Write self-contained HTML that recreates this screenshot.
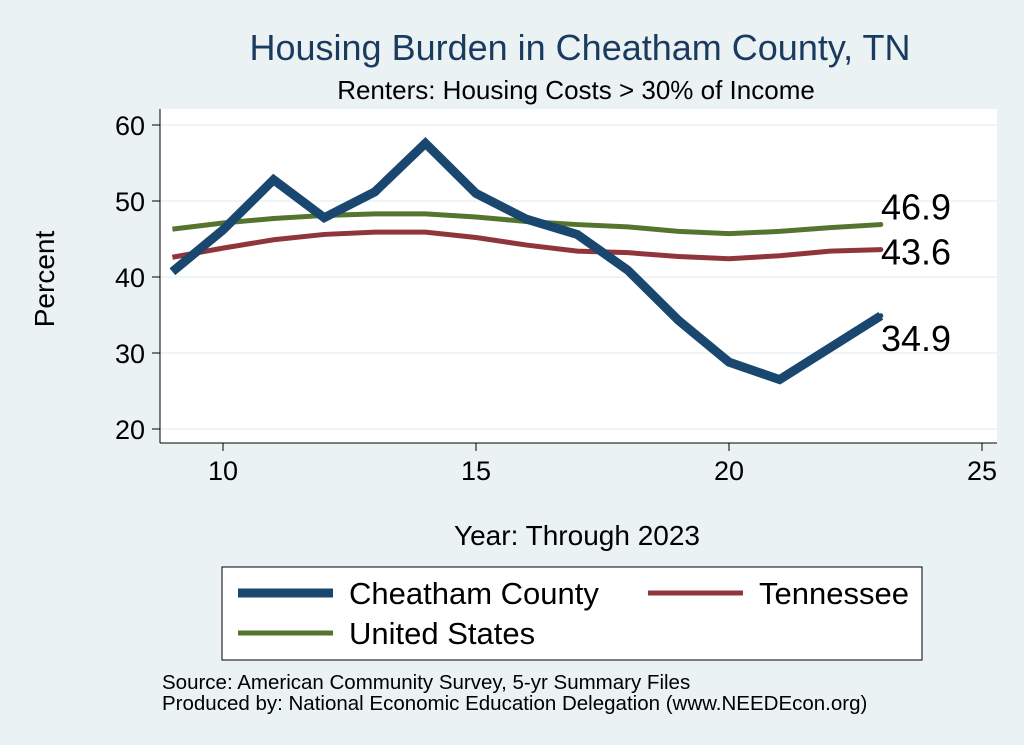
<!DOCTYPE html>
<html><head><meta charset="utf-8"><style>
body{margin:0;background:#eaf2f3;}
svg{display:block;font-family:"Liberation Sans",sans-serif;}
</style></head><body>
<svg width="1024" height="745" viewBox="0 0 1024 745">
<rect x="0" y="0" width="1024" height="745" fill="#eaf2f3"/>
<text x="580" y="60" text-anchor="middle" font-size="36" fill="#1a3a5e">Housing Burden in Cheatham County, TN</text>
<text x="576" y="99" text-anchor="middle" font-size="26" fill="#000">Renters: Housing Costs &gt; 30% of Income</text>
<rect x="160" y="109" width="837" height="334" fill="#fff"/>
<g id="grid"></g><g id="axes"></g><g id="series"></g>
<text x="44" y="279" text-anchor="middle" font-size="28" transform="rotate(-90 44 279)" dy="10">Percent</text>
<text x="577" y="545" text-anchor="middle" font-size="28">Year: Through 2023</text>
<g>
<rect x="222" y="567" width="700" height="93" fill="#fff" stroke="#000" stroke-width="1"/>
<line x1="238" y1="593" x2="333" y2="593" stroke="#1a476f" stroke-width="9"/>
<text x="349" y="604" font-size="31">Cheatham County</text>
<line x1="648" y1="593" x2="743" y2="593" stroke="#90353b" stroke-width="5"/>
<text x="759" y="604" font-size="31">Tennessee</text>
<line x1="238" y1="633" x2="333" y2="633" stroke="#55752f" stroke-width="5"/>
<text x="349" y="644" font-size="31">United States</text>
</g>
<text x="162" y="689" font-size="20.5">Source: American Community Survey, 5-yr Summary Files</text>
<text x="162" y="710" font-size="20.5">Produced by: National Economic Education Delegation (www.NEEDEcon.org)</text>
</svg>
<script>
const years=[9,10,11,12,13,14,15,16,17,18,19,20,21,22,23];
const cheatham=[40.7,46.2,52.8,47.8,51.2,57.6,51,47.6,45.6,40.9,34.3,28.8,26.5,30.7,34.9];
const tennessee=[42.6,43.8,44.9,45.6,45.9,45.9,45.2,44.2,43.4,43.2,42.7,42.4,42.8,43.4,43.6];
const unitedStates=[46.3,47.1,47.7,48.1,48.3,48.3,47.9,47.3,46.9,46.6,46.0,45.7,46.0,46.5,46.9];
const xTicks=[10,15,20,25];
const yTicks=[20,30,40,50,60];
const NS="http://www.w3.org/2000/svg";
const X=v=>223+(v-10)*50.6;
const Y=v=>429-(v-20)*7.6;
function mk(tag,attrs,parent){const e=document.createElementNS(NS,tag);for(const k in attrs)e.setAttribute(k,attrs[k]);parent.appendChild(e);return e;}
const grid=document.getElementById('grid'),axes=document.getElementById('axes'),ser=document.getElementById('series');
yTicks.forEach(t=>{
 const g=mk('line',{x1:160,x2:997,y1:Y(t),y2:Y(t),stroke:'#eaf2f3','stroke-width':1.5},grid);
 
 
 const tk=mk('line',{x1:152,x2:160,y1:Y(t),y2:Y(t),stroke:'#000'},axes);
 
 
 const tx=mk('text',{x:145,y:Y(t)+10,'text-anchor':'end','font-size':27},axes);tx.textContent=t;
 
 
});
xTicks.forEach(t=>{
 const tk=mk('line',{x1:X(t),x2:X(t),y1:443,y2:451,stroke:'#000'},axes);
 
 
 const tx=mk('text',{x:X(t),y:480,'text-anchor':'middle','font-size':27},axes);tx.textContent=t;
 
 
});
const ya=mk('line',{x1:160,x2:160,y1:109,y2:443,stroke:'#000'},axes);


const xa=mk('line',{x1:160,x2:997,y1:443,y2:443,stroke:'#000'},axes);


function line(vals,color,w,name){
 const p=mk('polyline',{points:vals.map((v,i)=>X(years[i])+','+Y(v)).join(' '),fill:'none',stroke:color,'stroke-width':w,'stroke-linejoin':'miter'},ser);
 
 
 const last=vals[vals.length-1];
 const d=mk('circle',{cx:X(years[years.length-1]),cy:Y(last),r:2.5,fill:color},ser);
 
 
}
line(tennessee,'#90353b',5,'tennessee-line');
line(unitedStates,'#55752f',5,'us-line');
line(cheatham,'#1a476f',9,'cheatham-line');
const labs=[[unitedStates,-5,'us-end-label'],[tennessee,15,'tennessee-end-label'],[cheatham,35,'cheatham-end-label']];
labs.forEach(([vals,dy,name])=>{
 const v=vals[vals.length-1];
 const t=mk('text',{x:881,y:Y(v)+dy,'font-size':36},ser);t.textContent=v.toFixed(1);
 
 
});
</script>
</body></html>
